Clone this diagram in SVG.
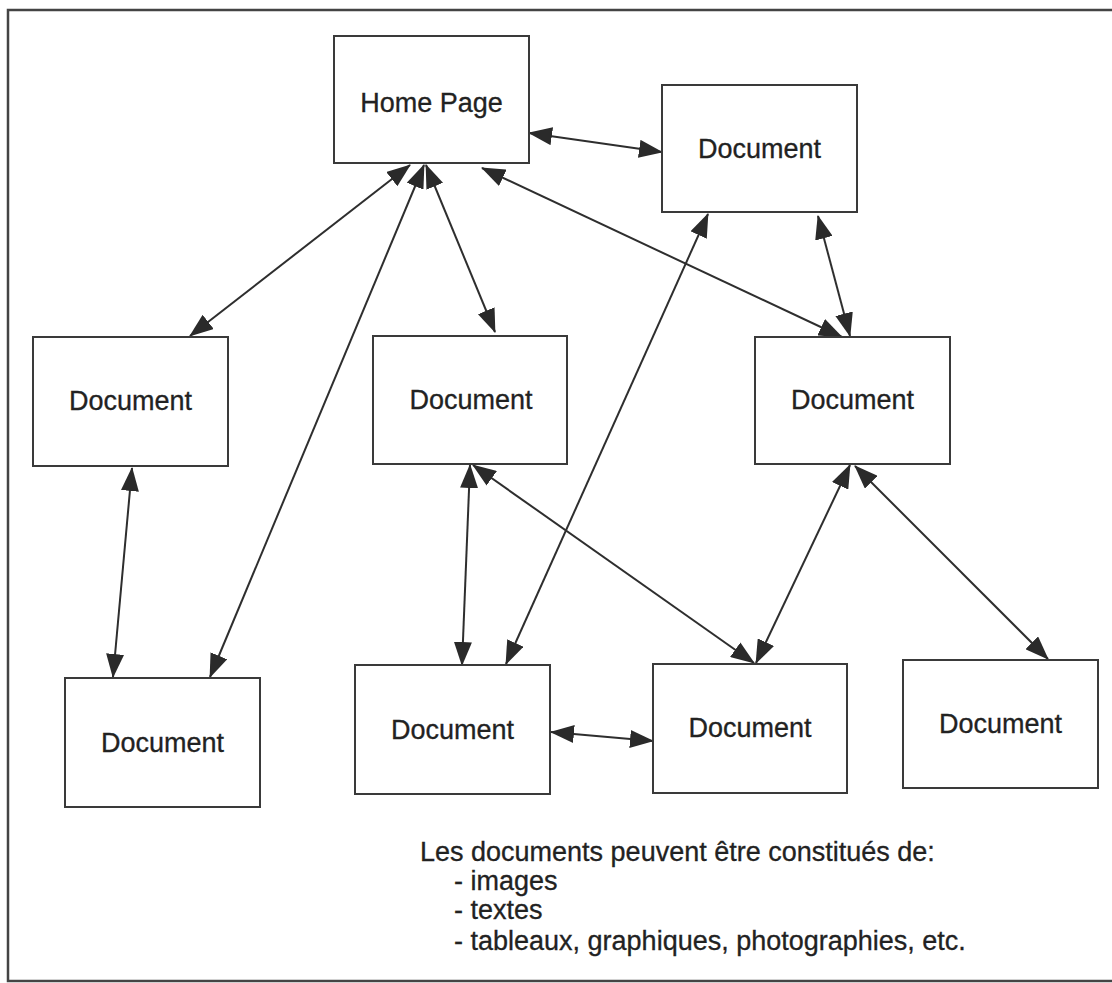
<svg xmlns="http://www.w3.org/2000/svg" width="1112" height="983" viewBox="0 0 1112 983">
<style>
.box{fill:#fff;stroke:#3a3a3a;stroke-width:2}
.lbl{font-family:"Liberation Sans",Arial,sans-serif;font-size:27px;fill:#222;stroke:#222;stroke-width:0.3;text-anchor:middle}
.note{font-family:"Liberation Sans",Arial,sans-serif;font-size:27px;fill:#222;stroke:#222;stroke-width:0.3}
.con{stroke:#2e2e2e;stroke-width:2;fill:none;marker-start:url(#ah);marker-end:url(#ah)}
</style>
<defs>
<marker id="ah" markerUnits="userSpaceOnUse" viewBox="0 0 24 18" markerWidth="24" markerHeight="18" refX="23" refY="9" orient="auto-start-reverse">
<path d="M0,0 L24,9 L0,18 z" fill="#2a2a2a"/>
</marker>
</defs>
<rect width="1112" height="983" fill="#fff"/>
<rect x="8" y="10" width="1110" height="971" fill="none" stroke="#444" stroke-width="2.5"/>
<g id="connectors">
<line class="con" x1="529" y1="133" x2="662" y2="152"/>
<line class="con" x1="410" y1="165" x2="190" y2="336"/>
<line class="con" x1="424" y1="165" x2="210" y2="677"/>
<line class="con" x1="426" y1="165" x2="495" y2="332"/>
<line class="con" x1="482" y1="168" x2="842" y2="337"/>
<line class="con" x1="818" y1="216" x2="850" y2="336"/>
<line class="con" x1="708" y1="214" x2="506" y2="664"/>
<line class="con" x1="132" y1="468" x2="113" y2="677"/>
<line class="con" x1="470" y1="465" x2="462" y2="665"/>
<line class="con" x1="473" y1="465" x2="754" y2="663"/>
<line class="con" x1="850" y1="465" x2="756" y2="663"/>
<line class="con" x1="855" y1="466" x2="1048" y2="659"/>
<line class="con" x1="551" y1="732" x2="653" y2="741"/>
</g>
<g id="home"><rect class="box" x="334" y="36" width="195" height="127"/><text class="lbl" x="431.5" y="112">Home Page</text></g>
<g id="doc-top"><rect class="box" x="662" y="85" width="195" height="127"/><text class="lbl" x="759.5" y="158">Document</text></g>
<g id="doc-left"><rect class="box" x="33" y="337" width="195" height="129"/><text class="lbl" x="130.5" y="410">Document</text></g>
<g id="doc-mid"><rect class="box" x="373" y="336" width="194" height="128"/><text class="lbl" x="471" y="409">Document</text></g>
<g id="doc-right"><rect class="box" x="755" y="337" width="195" height="127"/><text class="lbl" x="852.5" y="409">Document</text></g>
<g id="doc-bl"><rect class="box" x="65" y="678" width="195" height="129"/><text class="lbl" x="162.5" y="752">Document</text></g>
<g id="doc-bm"><rect class="box" x="355" y="665" width="195" height="129"/><text class="lbl" x="452.5" y="739">Document</text></g>
<g id="doc-br"><rect class="box" x="653" y="664" width="194" height="129"/><text class="lbl" x="750" y="737">Document</text></g>
<g id="doc-fr"><rect class="box" x="903" y="660" width="195" height="128"/><text class="lbl" x="1000.5" y="733">Document</text></g>
<g id="note">
<text class="note" x="420" y="861">Les documents peuvent être constitués de:</text>
<text class="note" x="454" y="890">- images</text>
<text class="note" x="454" y="919">- textes</text>
<text class="note" x="454" y="950">- tableaux, graphiques, photographies, etc.</text>
</g>
</svg>
